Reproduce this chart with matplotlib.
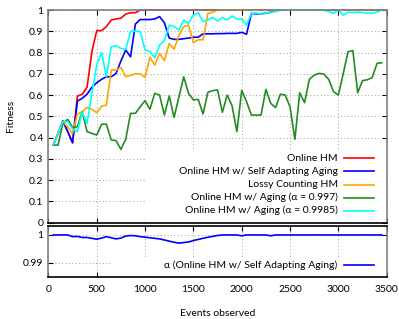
"""
Fitness of the heavy-hitter variants over observed events, plus alpha of the self adapting one.
"""

import numpy as np
import matplotlib
matplotlib.use("Agg")
import matplotlib.pyplot as plt
from matplotlib.patches import Rectangle

plt.rcParams['font.family'] = ['Lato', 'DejaVu Sans']
plt.rcParams['font.size'] = 7.5

events = np.arange(50, 3500, 50)

online_hm = [0.365, 0.42, 0.478, 0.428, 0.376, 0.595, 0.604, 0.637, 0.804, 0.903,
             0.903, 0.922, 0.953, 0.958, 0.961, 0.981, 0.987, 0.987, 1.0, 1.0] + [1.0] * 49

self_adapting = [0.365, 0.42, 0.478, 0.428, 0.376, 0.572, 0.585, 0.604, 0.637, 0.658,
                 0.674, 0.686, 0.686, 0.702, 0.76, 0.812, 0.78, 0.934, 0.955, 0.955,
                 0.955, 0.958, 0.969, 0.94, 0.868, 0.862, 0.862, 0.865, 0.868, 0.872,
                 0.872, 0.888, 0.888, 0.888, 0.889, 0.889, 0.89, 0.89, 0.89, 0.895,
                 0.886, 0.984, 0.982, 0.982, 0.985, 0.99, 0.997] + [1.0] * 22

lossy = [0.365, 0.42, 0.475, 0.45, 0.42, 0.51, 0.522, 0.542, 0.533, 0.517,
         0.548, 0.553, 0.718, 0.718, 0.730, 0.686, 0.693, 0.70, 0.70, 0.683,
         0.778, 0.741, 0.796, 0.762, 0.843, 0.815, 0.88, 0.922, 0.929, 0.846,
         0.86, 0.86, 0.984, 0.99] + [1.0] * 35

aging_997 = [0.365, 0.365, 0.467, 0.486, 0.447, 0.451, 0.522, 0.428, 0.42, 0.412,
             0.463, 0.463, 0.389, 0.386, 0.345, 0.392, 0.514, 0.514, 0.545, 0.574,
             0.533, 0.608, 0.600, 0.506, 0.596, 0.495, 0.59, 0.686, 0.608, 0.577,
             0.58, 0.511, 0.613, 0.621, 0.624, 0.519, 0.600, 0.55, 0.428, 0.622,
             0.569, 0.506, 0.506, 0.506, 0.627, 0.561, 0.541, 0.604, 0.600, 0.545,
             0.392, 0.611, 0.564, 0.674, 0.694, 0.702, 0.699, 0.674, 0.616, 0.600,
             0.70, 0.804, 0.809, 0.611, 0.668, 0.672, 0.682, 0.749, 0.752]

aging_9985 = [0.365, 0.42, 0.475, 0.475, 0.44, 0.428, 0.52, 0.467, 0.608, 0.741,
              0.80, 0.686, 0.827, 0.832, 0.82, 0.815, 0.90, 0.90, 0.898, 0.812,
              0.804, 0.776, 0.835, 0.856, 0.929, 0.922, 0.906, 0.953, 0.937, 0.976,
              0.987, 0.945, 0.955, 0.965, 0.948, 0.965, 0.953, 0.972, 0.958, 0.958,
              0.929, 0.984, 0.986, 0.98, 0.985, 0.99, 0.992, 1.0, 1.0, 1.0,
              1.0, 1.0, 1.0, 1.0, 1.0, 1.0, 1.0, 0.992, 0.984, 1.0,
              0.976, 0.99, 0.988, 0.99, 0.988, 0.985, 0.984, 0.99, 1.0]

alpha = [1.0, 1.0, 1.0, 1.0, 0.9994, 0.9995, 0.9991, 0.9991, 0.9988, 0.9985,
         0.9989, 0.9994, 0.999, 0.9986, 0.9989, 0.9996, 0.9998, 0.9997, 0.9994, 0.9992,
         0.999, 0.9988, 0.9986, 0.9982, 0.9978, 0.9974, 0.9971, 0.9973, 0.9975, 0.998,
         0.9984, 0.9988, 0.9992, 0.9995, 0.9998, 1.0, 1.0, 1.0, 1.0, 0.9997,
         1.0, 1.0, 1.0, 1.0, 1.0, 0.9997] + [1.0] * 23

series = [
    ("Online HM", online_hm, "#ff0000"),
    ("Online HM w/ Self Adapting Aging", self_adapting, "#0000ff"),
    ("Lossy Counting HM", lossy, "#ffa500"),
    ("Online HM w/ Aging (\u03b1 = 0.997)", aging_997, "#228b22"),
    ("Online HM w/ Aging (\u03b1 = 0.9985)", aging_9985, "#00ffff"),
]

W, H = 399, 319
fig = plt.figure(figsize=(W / 100, H / 100), dpi=100)


def box(l, t, r, b):
    return [l / W, 1 - b / H, (r - l) / W, (b - t) / H]


ax = fig.add_axes(box(48.4, 10, 386.7, 222.7))
ax2 = fig.add_axes(box(48.4, 226, 386.7, 277))


def style(a):
    a.set_axisbelow(True)
    a.grid(True, color="#a0a0a0", linestyle=(0, (1, 2.5)), linewidth=0.7)
    a.tick_params(direction="in", length=3.5, width=0.8, top=True, right=True,
                  pad=3.5, colors="black")
    a.tick_params(axis="x", pad=5.5)
    for side in ["left", "right", "top", "bottom"]:
        a.spines[side].set_color("#808080")
        a.spines[side].set_linewidth(1.2)


style(ax)
style(ax2)
ax.spines["bottom"].set_color("black")
ax2.spines["top"].set_color("black")
ax2.spines["bottom"].set_color("black")

for label, vals, color in series:
    ax.plot(events, vals, color=color, linewidth=1.2, clip_on=False, zorder=2)

ax.set_xlim(0, 3500)
ax.set_ylim(0, 1)
ax.set_xticks(np.arange(0, 3501, 500))
ax.set_xticklabels([])
ax.set_yticks(np.arange(0, 1.01, 0.1))
ax.set_yticklabels(["0", "0.1", "0.2", "0.3", "0.4", "0.5", "0.6", "0.7", "0.8", "0.9", "1"])
ax.set_ylabel("Fitness")
ax.yaxis.set_label_coords(-0.1, 0.5)

# key, gnuplot style: text right aligned, sample on the right
ax.add_patch(Rectangle(((145 - 48.4) / 338.3, 0), (386.7 - 145) / 338.3, (222.7 - 150) / 212.7,
                       transform=ax.transAxes, facecolor="white", edgecolor="none", zorder=1))
for i, (label, vals, color) in enumerate(series):
    yy = 1 - (158.3 + i * 13.1 - 10) / 212.7
    ax.text((337.7 - 48.4) / 338.3, yy, label, transform=ax.transAxes,
            ha="right", va="center", zorder=3)
    ax.plot([(344 - 48.4) / 338.3, (374.3 - 48.4) / 338.3], [yy, yy], color=color,
            linewidth=1.2, transform=ax.transAxes, zorder=3)

ax2.plot(events, alpha, color="#0000ff", linewidth=1.2, zorder=2)
ax2.set_xlim(0, 3500)
ax2.set_ylim(0.985, 1.0032)
ax2.set_xticks(np.arange(0, 3501, 500))
ax2.set_yticks([0.99, 1.0])
ax2.set_yticklabels(["0.99", "1"])
ax2.set_xlabel("Events observed", labelpad=11)

ax2.add_patch(Rectangle(((112 - 48.4) / 338.3, 0), (386.7 - 112) / 338.3, (277 - 257) / 51,
                        transform=ax2.transAxes, facecolor="white", edgecolor="none", zorder=1))
yy = 1 - (265 - 226) / 51
ax2.text((337.3 - 48.4) / 338.3, yy, "\u03b1 (Online HM w/ Self Adapting Aging)",
         transform=ax2.transAxes, ha="right", va="center", zorder=3)
ax2.plot([(344 - 48.4) / 338.3, (374.3 - 48.4) / 338.3], [yy, yy], color="#0000ff",
         linewidth=1.2, transform=ax2.transAxes, zorder=3)

fig.savefig("out.png", dpi=100)
